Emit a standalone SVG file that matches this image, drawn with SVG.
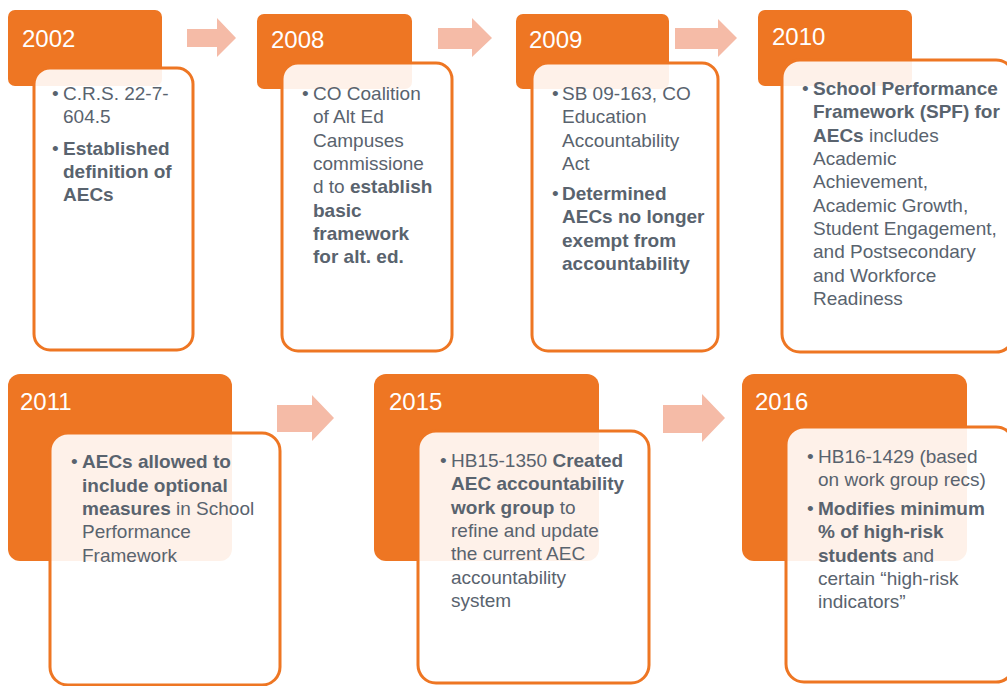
<svg xmlns="http://www.w3.org/2000/svg" width="1007" height="686" viewBox="0 0 1007 686">
<style>
.yr{fill:#EE7623}
.card{fill:#fff;fill-opacity:0.9;stroke:#EE7623;stroke-width:3}
.yt{font-family:"Liberation Sans",Arial,sans-serif;font-size:24px;fill:#fff}
.t{font-family:"Liberation Sans",Arial,sans-serif;font-size:19px;fill:#59636E}
.b{font-weight:bold}
.arr{fill:#F5BBA7}
</style>
<rect width="1007" height="686" fill="#fff"/>
<g id="connectors">
<polygon class="arr" points="187,29 217,29 217,18 236,38 217,57 217,47 187,47"/>
<polygon class="arr" points="438,28 472,28 472,18 492,38 472,57 472,49 438,49"/>
<polygon class="arr" points="675,28 718,28 718,19 737,38 718,57 718,49 675,49"/>
<polygon class="arr" points="277,405 312,405 312,395 334,418 312,441 312,432 277,432"/>
<polygon class="arr" points="663,405 702,405 702,394 725,418 702,442 702,433 663,433"/>
</g>
<g id="n2002">
<rect class="yr" x="8" y="10" width="154" height="76" rx="7"/>
<text class="yt" x="22" y="47">2002</text>
<rect class="card" x="34" y="68" width="159" height="282" rx="16"/>
<text class="t"><tspan x="52" y="100">•</tspan><tspan x="63" y="100">C.R.S. 22-7-</tspan><tspan x="63" y="123">604.5</tspan>
<tspan x="52" y="155">•</tspan><tspan class="b" x="63" y="155">Established</tspan><tspan class="b" x="63" y="178">definition of</tspan><tspan class="b" x="63" y="201">AECs</tspan></text>
</g>
<g id="n2008">
<rect class="yr" x="257" y="14" width="155" height="75" rx="7"/>
<text class="yt" x="271" y="48">2008</text>
<rect class="card" x="282" y="63" width="170" height="288" rx="16"/>
<text class="t"><tspan x="302" y="100">•</tspan><tspan x="313" y="100">CO Coalition</tspan><tspan x="313" y="123">of Alt Ed</tspan><tspan x="313" y="147">Campuses</tspan><tspan x="313" y="170">commissione</tspan><tspan x="313" y="193">d to </tspan><tspan class="b">establish</tspan><tspan class="b" x="313" y="217">basic</tspan><tspan class="b" x="313" y="240">framework</tspan><tspan class="b" x="313" y="263">for alt. ed.</tspan></text>
</g>
<g id="n2009">
<rect class="yr" x="516" y="14" width="153" height="75" rx="7"/>
<text class="yt" x="529" y="48">2009</text>
<rect class="card" x="532" y="63" width="186" height="288" rx="16"/>
<text class="t"><tspan x="552" y="100">•</tspan><tspan x="562" y="100">SB 09-163, CO</tspan><tspan x="562" y="123">Education</tspan><tspan x="562" y="147">Accountability</tspan><tspan x="562" y="170">Act</tspan>
<tspan x="552" y="200">•</tspan><tspan class="b" x="562" y="200">Determined</tspan><tspan class="b" x="562" y="223">AECs no longer</tspan><tspan class="b" x="562" y="247">exempt from</tspan><tspan class="b" x="562" y="270">accountability</tspan></text>
</g>
<g id="n2010">
<rect class="yr" x="758" y="10" width="154" height="76" rx="7"/>
<text class="yt" x="772" y="45">2010</text>
<rect class="card" x="782" y="60" width="232" height="292" rx="18"/>
<text class="t"><tspan x="802" y="95">•</tspan><tspan class="b" x="813" y="95">School Performance</tspan><tspan class="b" x="813" y="118">Framework (SPF) for</tspan><tspan class="b" x="813" y="142">AECs</tspan><tspan> includes</tspan><tspan x="813" y="165">Academic</tspan><tspan x="813" y="188">Achievement,</tspan><tspan x="813" y="212">Academic Growth,</tspan><tspan x="813" y="235">Student Engagement,</tspan><tspan x="813" y="258">and Postsecondary</tspan><tspan x="813" y="282">and Workforce</tspan><tspan x="813" y="305">Readiness</tspan></text>
</g>
<g id="n2011">
<rect class="yr" x="8" y="374" width="224" height="187" rx="12"/>
<text class="yt" x="20" y="410">2011</text>
<rect class="card" x="50" y="433" width="230" height="252" rx="18"/>
<text class="t"><tspan x="71" y="468">•</tspan><tspan class="b" x="82" y="468">AECs allowed to</tspan><tspan class="b" x="82" y="492">include optional</tspan><tspan class="b" x="82" y="515">measures</tspan><tspan> in School</tspan><tspan x="82" y="538">Performance</tspan><tspan x="82" y="562">Framework</tspan></text>
</g>
<g id="n2015">
<rect class="yr" x="374" y="374" width="225" height="187" rx="12"/>
<text class="yt" x="389" y="410">2015</text>
<rect class="card" x="418" y="431" width="231" height="252" rx="18"/>
<text class="t"><tspan x="440" y="467">•</tspan><tspan x="451" y="467">HB15-1350 </tspan><tspan class="b">Created</tspan><tspan class="b" x="451" y="490">AEC accountability</tspan><tspan class="b" x="451" y="514">work group</tspan><tspan> to</tspan><tspan x="451" y="537">refine and update</tspan><tspan x="451" y="560">the current AEC</tspan><tspan x="451" y="584">accountability</tspan><tspan x="451" y="607">system</tspan></text>
</g>
<g id="n2016">
<rect class="yr" x="742" y="374" width="225" height="187" rx="12"/>
<text class="yt" x="755" y="410">2016</text>
<rect class="card" x="786" y="427" width="228" height="255" rx="18"/>
<text class="t"><tspan x="807" y="463">•</tspan><tspan x="818" y="463">HB16-1429 (based</tspan><tspan x="818" y="486">on work group recs)</tspan>
<tspan x="807" y="515">•</tspan><tspan class="b" x="818" y="515">Modifies minimum</tspan><tspan class="b" x="818" y="538">% of high-risk</tspan><tspan class="b" x="818" y="562">students</tspan><tspan> and</tspan><tspan x="818" y="585">certain “high-risk</tspan><tspan x="818" y="608">indicators”</tspan></text>
</g>
</svg>
